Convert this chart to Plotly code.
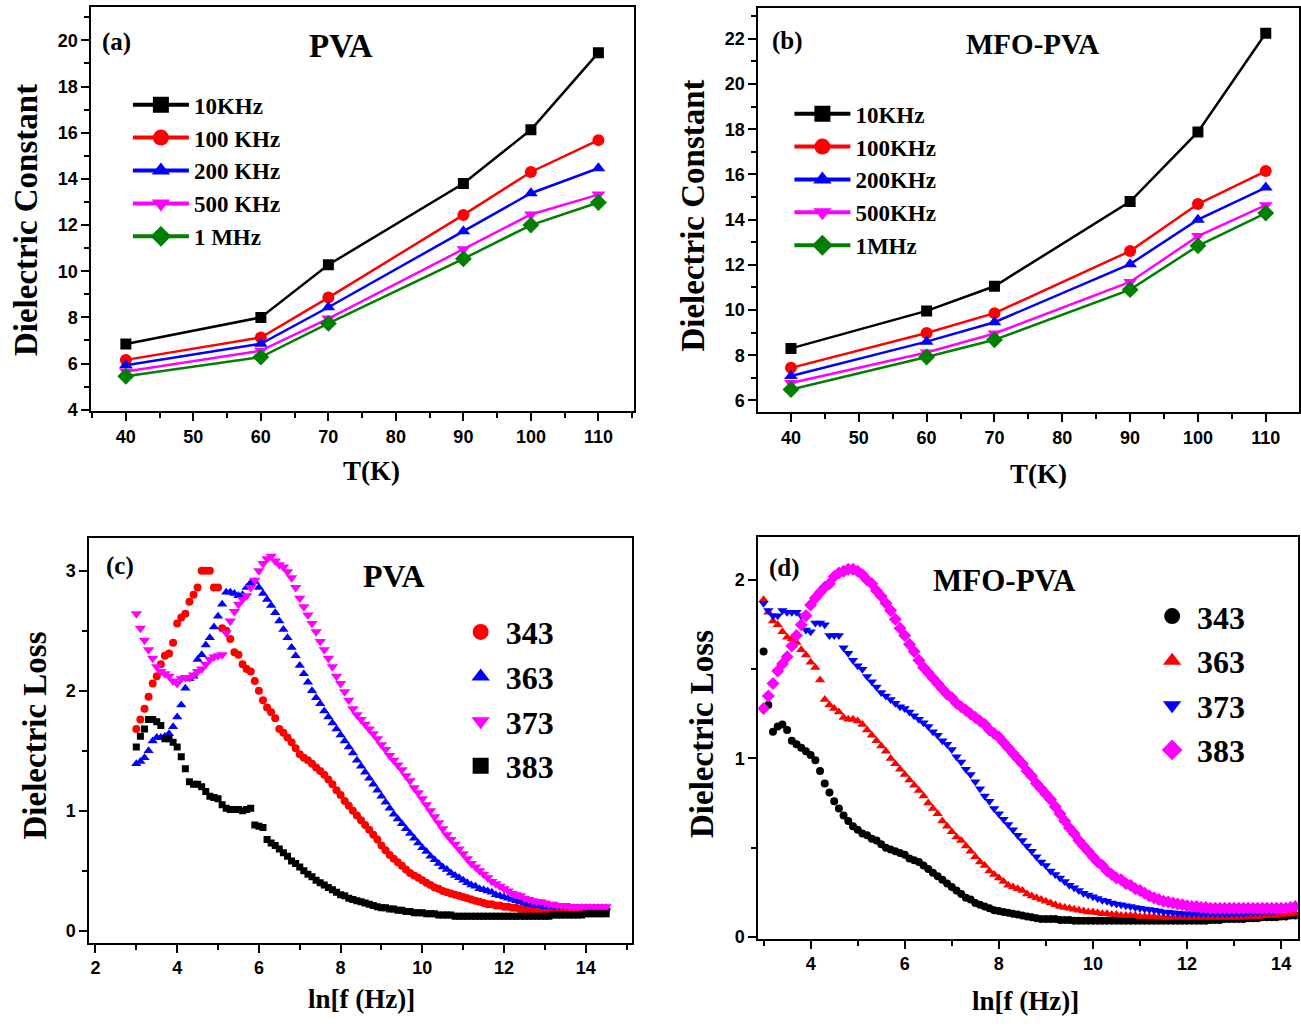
import plotly.graph_objects as go

W, H = 1301, 1027
SERIF = "Liberation Serif"
SANS = "Liberation Sans"

# ---- panels (a) and (b): dielectric constant vs temperature ----
T = [40, 60, 70, 90, 100, 110]

PVA_NAMES = ["10KHz", "100 KHz", "200 KHz", "500 KHz", "1 MHz"]
PVA_10K = [6.85, 8.0, 10.28, 13.8, 16.13, 19.47]
PVA_100K = [6.16, 7.13, 8.86, 12.44, 14.3, 15.68]
PVA_200K = [5.93, 6.86, 8.44, 11.73, 13.38, 14.46]
PVA_500K = [5.66, 6.56, 7.95, 10.95, 12.46, 13.32]
PVA_1M = [5.45, 6.28, 7.74, 10.54, 12.0, 12.98]

MFO_NAMES = ["10KHz", "100KHz", "200KHz", "500KHz", "1MHz"]
MFO_10K = [8.3, 9.96, 11.05, 14.8, 17.88, 22.25]
MFO_100K = [7.44, 8.98, 9.86, 12.61, 14.69, 16.15]
MFO_200K = [7.08, 8.6, 9.46, 12.03, 14.0, 15.42]
MFO_500K = [6.77, 8.12, 8.96, 11.24, 13.27, 14.64]
MFO_1M = [6.48, 7.92, 8.68, 10.9, 12.84, 14.29]

# ---- panels (c) and (d): dielectric loss vs ln f ----
LNF = [3.0, 3.1, 3.2, 3.3, 3.4, 3.5, 3.6, 3.7, 3.8, 3.9,
       4.0, 4.1, 4.2, 4.3, 4.4, 4.5, 4.6, 4.7, 4.8, 4.9,
       5.0, 5.1, 5.2, 5.3, 5.4, 5.5, 5.6, 5.7, 5.8, 5.9,
       6.0, 6.1, 6.2, 6.3, 6.4, 6.5, 6.6, 6.7, 6.8, 6.9,
       7.0, 7.1, 7.2, 7.3, 7.4, 7.5, 7.6, 7.7, 7.8, 7.9,
       8.0, 8.1, 8.2, 8.3, 8.4, 8.5, 8.6, 8.7, 8.8, 8.9,
       9.0, 9.1, 9.2, 9.3, 9.4, 9.5, 9.6, 9.7, 9.8, 9.9,
       10.0, 10.1, 10.2, 10.3, 10.4, 10.5, 10.6, 10.7, 10.8, 10.9,
       11.0, 11.1, 11.2, 11.3, 11.4, 11.5, 11.6, 11.7, 11.8, 11.9,
       12.0, 12.1, 12.2, 12.3, 12.4, 12.5, 12.6, 12.7, 12.8, 12.9,
       13.0, 13.1, 13.2, 13.3, 13.4, 13.5, 13.6, 13.7, 13.8, 13.9,
       14.0, 14.1, 14.2, 14.3, 14.4, 14.5]

TEMPS = ["343", "363", "373", "383"]

PVA_343 = [1.68, 1.76, 1.85, 1.95, 2.06, 2.12, 2.22, 2.29, 2.31, 2.40,
           2.56, 2.61, 2.64, 2.74, 2.80, 2.86, 3.00, 3.00, 3.00, 2.86,
           2.86, 2.52, 2.50, 2.43, 2.32, 2.30, 2.22, 2.18, 2.16, 2.08,
           2.00, 1.92, 1.86, 1.82, 1.77, 1.68, 1.65, 1.61, 1.57, 1.52,
           1.47, 1.44, 1.42, 1.39, 1.36, 1.33, 1.30, 1.26, 1.22, 1.17,
           1.13, 1.08, 1.04, 1.00, 0.96, 0.92, 0.88, 0.84, 0.80, 0.76,
           0.71, 0.67, 0.63, 0.60, 0.57, 0.54, 0.51, 0.48, 0.46, 0.44,
           0.42, 0.40, 0.38, 0.36, 0.35, 0.33, 0.32, 0.31, 0.30, 0.29,
           0.28, 0.27, 0.26, 0.25, 0.24, 0.23, 0.22, 0.22, 0.21, 0.21,
           0.20, 0.20, 0.19, 0.19, 0.18, 0.18, 0.18, 0.17, 0.17, 0.17,
           0.17, 0.16, 0.16, 0.16, 0.16, 0.16, 0.16, 0.16, 0.16, 0.16,
           0.16, 0.16, 0.16, 0.17, 0.17, 0.17]
PVA_363 = [1.39, 1.41, 1.44, 1.50, 1.58, 1.61, 1.61, 1.62, 1.64, 1.70,
           1.78, 1.88, 2.02, 2.10, 2.12, 2.26, 2.30, 2.38, 2.44, 2.53,
           2.62, 2.72, 2.82, 2.82, 2.81, 2.79, 2.80, 2.86, 2.90, 2.91,
           2.86, 2.81, 2.76, 2.71, 2.65, 2.58, 2.51, 2.44, 2.36, 2.29,
           2.21, 2.14, 2.07, 2.00, 1.94, 1.89, 1.83, 1.78, 1.73, 1.68,
           1.63, 1.58, 1.53, 1.48, 1.42, 1.37, 1.32, 1.27, 1.22, 1.17,
           1.12, 1.07, 1.02, 0.97, 0.93, 0.89, 0.85, 0.81, 0.77, 0.73,
           0.69, 0.66, 0.62, 0.59, 0.56, 0.53, 0.51, 0.48, 0.46, 0.44,
           0.42, 0.40, 0.38, 0.37, 0.35, 0.34, 0.33, 0.32, 0.30, 0.29,
           0.28, 0.27, 0.26, 0.25, 0.24, 0.23, 0.22, 0.22, 0.21, 0.21,
           0.20, 0.20, 0.20, 0.19, 0.19, 0.19, 0.19, 0.19, 0.19, 0.19,
           0.19, 0.19, 0.19, 0.19, 0.19, 0.19]
PVA_373 = [2.64, 2.52, 2.42, 2.34, 2.27, 2.20, 2.16, 2.14, 2.12, 2.08,
           2.06, 2.10, 2.11, 2.11, 2.13, 2.16, 2.18, 2.22, 2.26, 2.28,
           2.29, 2.30, 2.48, 2.58, 2.66, 2.72, 2.76, 2.79, 2.86, 2.92,
           3.00, 3.06, 3.10, 3.12, 3.08, 3.05, 3.03, 2.99, 2.94, 2.86,
           2.77, 2.70, 2.63, 2.56, 2.49, 2.41, 2.34, 2.27, 2.20, 2.12,
           2.06, 1.99, 1.92, 1.85, 1.80, 1.76, 1.72, 1.68, 1.64, 1.60,
           1.55, 1.51, 1.46, 1.42, 1.38, 1.34, 1.29, 1.25, 1.19, 1.15,
           1.10, 1.05, 1.00, 0.95, 0.90, 0.85, 0.80, 0.76, 0.72, 0.68,
           0.64, 0.60, 0.56, 0.53, 0.50, 0.47, 0.44, 0.41, 0.39, 0.37,
           0.35, 0.33, 0.31, 0.30, 0.29, 0.27, 0.26, 0.25, 0.24, 0.24,
           0.23, 0.22, 0.22, 0.21, 0.21, 0.21, 0.20, 0.20, 0.20, 0.20,
           0.20, 0.20, 0.20, 0.20, 0.20, 0.20]
PVA_383 = [1.53, 1.62, 1.68, 1.76, 1.76, 1.74, 1.71, 1.60, 1.60, 1.57,
           1.53, 1.45, 1.35, 1.24, 1.22, 1.22, 1.20, 1.16, 1.12, 1.11,
           1.10, 1.05, 1.02, 1.01, 1.01, 1.01, 1.00, 1.01, 1.02, 0.88,
           0.87, 0.86, 0.76, 0.73, 0.71, 0.68, 0.65, 0.62, 0.58, 0.56,
           0.53, 0.50, 0.47, 0.45, 0.42, 0.40, 0.38, 0.36, 0.34, 0.32,
           0.30, 0.29, 0.27, 0.26, 0.25, 0.24, 0.23, 0.22, 0.21, 0.20,
           0.19, 0.19, 0.18, 0.18, 0.17, 0.17, 0.16, 0.16, 0.15, 0.15,
           0.15, 0.14, 0.14, 0.14, 0.13, 0.13, 0.13, 0.13, 0.12, 0.12,
           0.12, 0.12, 0.12, 0.12, 0.12, 0.12, 0.12, 0.12, 0.12, 0.12,
           0.12, 0.12, 0.12, 0.12, 0.12, 0.12, 0.12, 0.12, 0.12, 0.12,
           0.12, 0.12, 0.13, 0.13, 0.13, 0.13, 0.13, 0.13, 0.13, 0.13,
           0.14, 0.14, 0.14, 0.14, 0.14, 0.14]

MFO_343 = [1.60, 1.30, 1.15, 1.18, 1.19, 1.16, 1.10, 1.08, 1.06, 1.04,
           1.02, 0.99, 0.93, 0.86, 0.81, 0.76, 0.72, 0.68, 0.65, 0.62,
           0.60, 0.58, 0.57, 0.55, 0.54, 0.52, 0.50, 0.49, 0.48, 0.47,
           0.46, 0.44, 0.43, 0.42, 0.40, 0.38, 0.36, 0.34, 0.32, 0.30,
           0.28, 0.26, 0.24, 0.22, 0.21, 0.19, 0.18, 0.17, 0.16, 0.15,
           0.145, 0.14, 0.135, 0.13, 0.125, 0.12, 0.115, 0.11, 0.105, 0.10,
           0.10, 0.10, 0.10, 0.095, 0.095, 0.095, 0.09, 0.09, 0.09, 0.09,
           0.09, 0.09, 0.09, 0.09, 0.09, 0.09, 0.09, 0.09, 0.09, 0.09,
           0.09, 0.09, 0.09, 0.09, 0.09, 0.09, 0.09, 0.09, 0.09, 0.09,
           0.09, 0.09, 0.09, 0.09, 0.09, 0.095, 0.095, 0.095, 0.10, 0.10,
           0.10, 0.10, 0.10, 0.105, 0.105, 0.105, 0.11, 0.11, 0.11, 0.11,
           0.115, 0.115, 0.12, 0.12, 0.12, 0.125]
MFO_363 = [1.89, 1.82, 1.77, 1.75, 1.71, 1.68, 1.67, 1.65, 1.61, 1.58,
           1.54, 1.51, 1.44, 1.33, 1.30, 1.28, 1.26, 1.23, 1.22, 1.22,
           1.21, 1.19, 1.16, 1.13, 1.10, 1.07, 1.04, 1.00, 0.97, 0.94,
           0.91, 0.88, 0.85, 0.82, 0.79, 0.75, 0.72, 0.69, 0.65, 0.62,
           0.59, 0.56, 0.54, 0.51, 0.48, 0.45, 0.42, 0.40, 0.37, 0.35,
           0.33, 0.31, 0.29, 0.28, 0.27, 0.26, 0.24, 0.23, 0.22, 0.21,
           0.20, 0.19, 0.18, 0.17, 0.165, 0.16, 0.155, 0.15, 0.145, 0.14,
           0.14, 0.135, 0.13, 0.13, 0.125, 0.125, 0.12, 0.12, 0.12, 0.12,
           0.115, 0.115, 0.115, 0.115, 0.11, 0.11, 0.11, 0.11, 0.11, 0.11,
           0.11, 0.11, 0.11, 0.11, 0.11, 0.11, 0.11, 0.11, 0.11, 0.11,
           0.11, 0.11, 0.11, 0.115, 0.115, 0.115, 0.12, 0.12, 0.12, 0.12,
           0.125, 0.125, 0.13, 0.13, 0.13, 0.135]
MFO_373 = [1.87, 1.83, 1.80, 1.80, 1.83, 1.82, 1.82, 1.82, 1.80, 1.72,
           1.71, 1.76, 1.76, 1.75, 1.69, 1.69, 1.69, 1.62, 1.59, 1.55,
           1.52, 1.50, 1.46, 1.43, 1.40, 1.37, 1.35, 1.33, 1.31, 1.29,
           1.28, 1.26, 1.24, 1.22, 1.20, 1.18, 1.15, 1.13, 1.10, 1.08,
           1.05, 1.01, 0.98, 0.94, 0.91, 0.87, 0.83, 0.79, 0.76, 0.72,
           0.69, 0.66, 0.63, 0.60, 0.57, 0.54, 0.51, 0.48, 0.45, 0.42,
           0.40, 0.37, 0.35, 0.33, 0.31, 0.29, 0.275, 0.26, 0.245, 0.235,
           0.225, 0.215, 0.205, 0.20, 0.19, 0.185, 0.18, 0.175, 0.17, 0.165,
           0.16, 0.157, 0.154, 0.15, 0.145, 0.14, 0.138, 0.135, 0.133, 0.13,
           0.13, 0.13, 0.13, 0.13, 0.13, 0.13, 0.13, 0.13, 0.13, 0.13,
           0.13, 0.13, 0.13, 0.135, 0.135, 0.135, 0.14, 0.14, 0.14, 0.145,
           0.15, 0.155, 0.16, 0.165, 0.17, 0.17]
MFO_383 = [1.28, 1.35, 1.42, 1.49, 1.53, 1.57, 1.63, 1.69, 1.75, 1.80,
           1.86, 1.90, 1.93, 1.96, 1.98, 2.02, 2.04, 2.05, 2.06, 2.06,
           2.05, 2.03, 2.00, 1.98, 1.94, 1.91, 1.87, 1.83, 1.78, 1.73,
           1.69, 1.64, 1.60, 1.55, 1.51, 1.48, 1.45, 1.42, 1.39, 1.36,
           1.34, 1.31, 1.29, 1.27, 1.25, 1.23, 1.21, 1.19, 1.16, 1.14,
           1.12, 1.09, 1.06, 1.03, 1.00, 0.97, 0.93, 0.90, 0.86, 0.83,
           0.80, 0.77, 0.73, 0.69, 0.65, 0.61, 0.58, 0.54, 0.51, 0.48,
           0.45, 0.42, 0.40, 0.37, 0.35, 0.33, 0.32, 0.30, 0.29, 0.27,
           0.26, 0.245, 0.23, 0.22, 0.21, 0.20, 0.195, 0.19, 0.185, 0.18,
           0.175, 0.17, 0.17, 0.165, 0.165, 0.16, 0.16, 0.16, 0.16, 0.16,
           0.16, 0.16, 0.16, 0.16, 0.16, 0.16, 0.16, 0.16, 0.16, 0.16,
           0.16, 0.16, 0.165, 0.17, 0.17, 0.175]

GREEN = "#008000"


def px(x):
    return x / W


def py(y):
    return 1 - y / H


fig = go.Figure()


def add_temp_panel(series, names, xa, ya, leg):
    styles = [("black", "square", 11), ("red", "circle", 12), ("blue", "triangle-up", 12),
              ("magenta", "triangle-down", 12), (GREEN, "diamond", 13)]
    for vals, name, (c, sym, sz) in zip(series, names, styles):
        fig.add_trace(go.Scatter(x=T, y=vals, mode="lines+markers", xaxis=xa, yaxis=ya,
                                 line=dict(color=c, width=2.5),
                                 marker=dict(symbol=sym, size=sz, color=c),
                                 showlegend=False))
        # legend entry with a bigger symbol
        fig.add_trace(go.Scatter(x=[None], y=[None], mode="lines+markers", xaxis=xa, yaxis=ya,
                                 line=dict(color=c, width=4),
                                 marker=dict(symbol=sym, size=16, color=c),
                                 name=name, legend=leg))


def add_loss_panel(series, styles, xa, ya, leg):
    for vals, name, (c, sym, sz) in zip(series, TEMPS, styles):
        fig.add_trace(go.Scatter(x=LNF, y=vals, mode="markers", xaxis=xa, yaxis=ya,
                                 marker=dict(symbol=sym, size=sz, color=c),
                                 showlegend=False))
        fig.add_trace(go.Scatter(x=[None], y=[None], mode="markers", xaxis=xa, yaxis=ya,
                                 marker=dict(symbol=sym, size=16, color=c),
                                 name=name, legend=leg))


add_temp_panel([PVA_10K, PVA_100K, PVA_200K, PVA_500K, PVA_1M], PVA_NAMES, "x", "y", "legend")
add_temp_panel([MFO_10K, MFO_100K, MFO_200K, MFO_500K, MFO_1M], MFO_NAMES, "x2", "y2", "legend2")
add_loss_panel([PVA_343, PVA_363, PVA_373, PVA_383],
               [("red", "circle", 8), ("blue", "triangle-up", 9),
                ("magenta", "triangle-down", 10), ("black", "square", 7)],
               "x3", "y3", "legend3")
add_loss_panel([MFO_343, MFO_363, MFO_373, MFO_383],
               [("black", "circle", 8), ("red", "triangle-up", 9),
                ("blue", "triangle-down", 9), ("magenta", "diamond", 10)],
               "x4", "y4", "legend4")

tickfont = dict(family=SANS, size=18, color="black", weight="bold")


def axis(dom, rng, d0, dt, mdt, anchor):
    return dict(domain=dom, range=rng, anchor=anchor, tickmode="linear", tick0=d0, dtick=dt,
                ticks="outside", ticklen=8, tickwidth=2, tickcolor="black",
                showline=True, linecolor="black", linewidth=2, mirror=True,
                showgrid=False, zeroline=False, tickfont=tickfont,
                minor=dict(dtick=mdt, ticks="outside", ticklen=5, tickwidth=1.5, tickcolor="black"))


def legend(x, y, size, iw):
    return dict(x=px(x), y=py(y), xanchor="left", yanchor="top", bgcolor="rgba(0,0,0,0)",
                borderwidth=0, tracegroupgap=0, itemwidth=iw, itemsizing="trace",
                font=dict(family=SERIF, size=size, color="black", weight="bold"))


fig.update_layout(
    width=W, height=H, margin=dict(l=0, r=0, t=0, b=0),
    paper_bgcolor="white", plot_bgcolor="white",
    xaxis=axis([px(91.5), px(634)], [34.9, 115.2], 40, 10, 5, "y"),
    yaxis=axis([py(415), py(7)], [3.93, 21.45], 4, 2, 1, "x"),
    xaxis2=axis([px(759), px(1300)], [35.2, 114.9], 40, 10, 5, "y2"),
    yaxis2=axis([py(416), py(8)], [5.47, 23.37], 6, 2, 1, "x2"),
    xaxis3=axis([px(89.4), px(632)], [1.85, 15.12], 2, 2, 1, "y3"),
    yaxis3=axis([py(951), py(543)], [-0.1, 3.27], 0, 1, 0.5, "x3"),
    xaxis4=axis([px(759), px(1298.6)], [2.89, 14.35], 2, 2, 1, "y4"),
    yaxis4=axis([py(947), py(542)], [-0.01, 2.24], 0, 1, 0.5, "x4"),
    legend=legend(128, 84, 23, 56),
    legend2=legend(790, 93, 23, 56),
    legend3=legend(456, 610, 32, 40),
    legend4=legend(1148, 594, 32, 40),
)

notes = [
    ("(a)", 117, 42, 25, 0), ("PVA", 341, 46, 33, 0),
    ("(b)", 788, 41, 25, 0), ("MFO-PVA", 1033, 44, 29, 0),
    ("(c)", 120, 571, 25, 0), ("PVA", 394, 581, 32, 0),
    ("(d)", 785, 573, 25, 0), ("MFO-PVA", 1005, 586, 31, 0),
    ("Dielectric Constant", 26, 222, 33, -90), ("T(K)", 372, 475, 27, 0),
    ("Dielectric Constant", 694, 217, 33, -90), ("T(K)", 1039, 478, 27, 0),
    ("Dielectric Loss", 36, 742, 33, -90), ("ln[f (Hz)]", 362, 1008, 27, 0),
    ("Dielectric Loss", 702, 740, 33, -90), ("ln[f (Hz)]", 1026, 1010, 27, 0),
]
for text, x, y, size, ang in notes:
    fig.add_annotation(text=text, x=px(x), y=py(y), xref="paper", yref="paper",
                       xanchor="center", yanchor="middle", showarrow=False, textangle=ang,
                       font=dict(family=SERIF, size=size, color="black", weight="bold"))

# the page body has a default 8px margin; drop it so the figure fills the window
fig.write_html("out.html", config={"displayModeBar": False},
               post_script="document.body.style.margin='0';")
